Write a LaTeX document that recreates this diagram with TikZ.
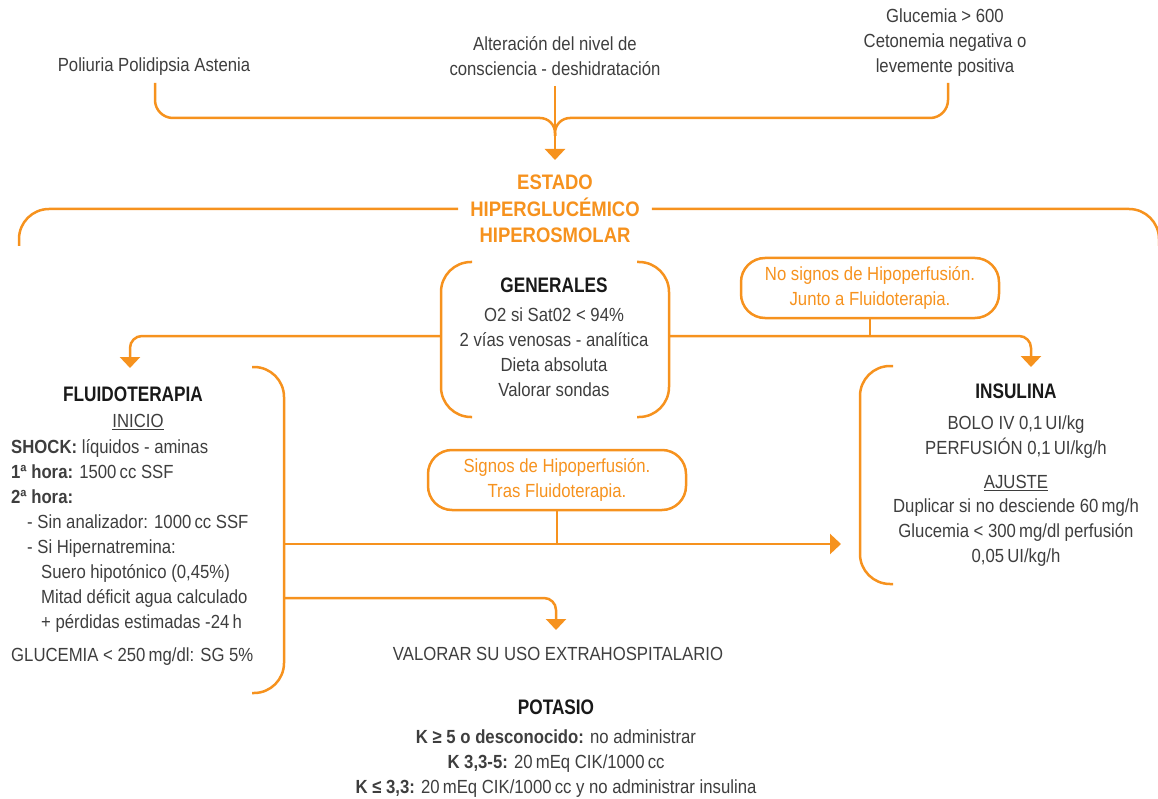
\documentclass[tikz,border=0pt]{standalone}
\usepackage{fontspec}
\setmainfont{Liberation Sans}[FakeStretch=0.88]
\newfontfamily\cabfont{Liberation Sans}[FakeStretch=0.82]
\usetikzlibrary{arrows.meta}

\definecolor{naranja}{RGB}{246,146,30}
\definecolor{gristexto}{RGB}{62,62,62}

\tikzset{
  linea/.style={naranja,line width=2.5pt},
  flecha/.style={linea,-{Triangle[width=20pt,length=11pt]}},
  cuerpo/.style={text=gristexto,inner sep=0pt,align=center,
    font=\fontsize{19}{25}\selectfont},
  cabecera/.style={text=black!90,inner sep=0pt,
    font=\cabfont\fontsize{21}{25}\selectfont\bfseries},
  aviso/.style={draw=naranja,line width=2.5pt,rounded corners=24pt,
    text=naranja,align=center,minimum width=258pt,minimum height=60pt,
    inner sep=0pt,font=\fontsize{19}{25}\selectfont}
}

\begin{document}
\begin{tikzpicture}[x=1pt,y=-1pt]
  \useasboundingbox (0,0) rectangle (1158,799);

  % sintomas
  \node[cuerpo] (poliuria) at (154,67) {Poliuria Polidipsia Astenia};
  \node[cuerpo] (alteracion) at (555,56)
    {Alteración del nivel de\\consciencia - deshidratación};
  \node[cuerpo] (glucemia) at (945,43)
    {Glucemia > 600\\Cetonemia negativa o\\levemente positiva};

  \node[inner sep=0pt,align=center,text=naranja,
    font=\fontsize{21}{26.5}\selectfont\bfseries] (estado) at (555,209)
    {ESTADO\\HIPERGLUCÉMICO\\HIPEROSMOLAR};

  \coordinate (punta) at (555,118);
  \coordinate (estadoin) at (555,160);
  \draw[linea,rounded corners=18pt] (155,83) -- (155,118)
    [rounded corners=15pt] -- (punta) -- ++(0,18);% llave izquierda
  \draw[linea,rounded corners=18pt] (948,83) -- (948,118)
    [rounded corners=15pt] -- (punta) -- ++(0,18);% llave derecha
  \draw[flecha] ([yshift=-10pt]alteracion.south) -- (estadoin);

  % llave grande
  \draw[linea,rounded corners=30pt] ([xshift=-12pt]estado.west) -| (19,246);
  \draw[linea,rounded corners=30pt] ([xshift=12pt]estado.east) -| (1159,246);

  % generales
  \node[cabecera] (generales) at (554,285) {GENERALES};
  \node[cuerpo] (generalestxt) at (554,352)
    {O2 si Sat02 < 94\%\\2 vías venosas - analítica\\Dieta absoluta\\Valorar sondas};
  \draw[linea,rounded corners=30pt] (472,262) -| (441,417) -- (472,417);
  \draw[linea,rounded corners=30pt] (637,262) -| (669,417) -- (637,417);
  \coordinate (genI) at (441,336);
  \coordinate (genD) at (669,336);

  \node[aviso] (nosignos) at (870,288)
    {No signos de Hipoperfusión.\\Junto a Fluidoterapia.};

  \coordinate (fluidoin) at (130,368);
  \coordinate (insulinain) at (1031,367);
  \draw[flecha,rounded corners=12pt] (genI) -| (fluidoin);
  \draw[flecha,rounded corners=12pt] (genD) -| (insulinain);
  \draw[linea] (nosignos.south) -- (nosignos.south |- genD);

  % fluidoterapia
  \node[cabecera] (fluido) at (133,394) {FLUIDOTERAPIA};
  \node[cuerpo] (inicio) at (138,422) {\underline{INICIO}};
  \node[cuerpo,align=left,anchor=west] (fluidotxt) at (11,535.5)
    {\textbf{SHOCK:} líquidos - aminas\\
     \textbf{1ª hora:} 1500\,cc SSF\\
     \textbf{2ª hora:}\\
     \hspace*{16pt}- Sin analizador: 1000\,cc SSF\\
     \hspace*{16pt}- Si Hipernatremina:\\
     \hspace*{30pt}Suero hipotónico (0,45\%)\\
     \hspace*{30pt}Mitad déficit agua calculado\\
     \hspace*{30pt}+ pérdidas estimadas -24\,h};
  \node[cuerpo,anchor=west] (glucemiasg) at (11,657)
    {GLUCEMIA < 250\,mg/dl: SG 5\%};
  \draw[linea,rounded corners=30pt] (252,367) -| (284,693) -- (252,693);
  \coordinate (fluA) at (284,544);
  \coordinate (fluB) at (284,598);

  \node[aviso] (signos) at (557,480)
    {Signos de Hipoperfusión.\\Tras Fluidoterapia.};
  \coordinate (insulinaizq) at (841,544);
  \draw[flecha] (fluA) -- (insulinaizq);
  \draw[linea] (signos.south) -- (signos.south |- fluA);

  \node[cuerpo] (valorar) at (558,654) {VALORAR SU USO EXTRAHOSPITALARIO};
  \coordinate (valorarin) at (556,630);
  \draw[flecha,rounded corners=12pt] (fluB) -| (valorarin);

  % insulina
  \node[cabecera] (insulina) at (1016,391) {INSULINA};
  \node[cuerpo] (bolo) at (1016,437.5)
    {BOLO IV 0,1\,UI/kg\\PERFUSIÓN 0,1\,UI/kg/h};
  \node[cuerpo] (ajuste) at (1016,483) {\underline{AJUSTE}};
  \node[cuerpo] (ajustetxt) at (1016,533)
    {Duplicar si no desciende 60\,mg/h\\Glucemia < 300\,mg/dl perfusión\\0,05\,UI/kg/h};
  \draw[linea,rounded corners=30pt] (893,366) -| (860,584) -- (893,584);

  % potasio
  \node[cabecera] (potasio) at (556,707) {POTASIO};
  \node[cuerpo] (potasiotxt) at (556,764)
    {\textbf{K ≥ 5 o desconocido:} no administrar\\
     \textbf{K 3,3-5:} 20\,mEq CIK/1000\,cc\\
     \textbf{K ≤ 3,3:} 20\,mEq CIK/1000\,cc y no administrar insulina};
\end{tikzpicture}
\end{document}
